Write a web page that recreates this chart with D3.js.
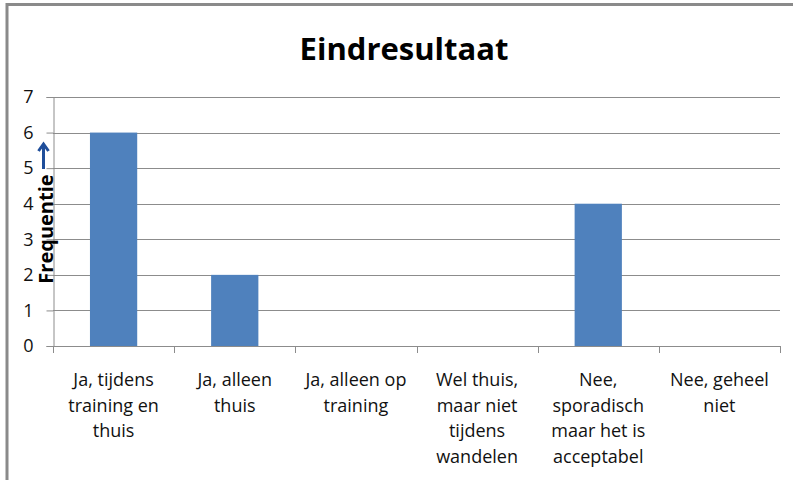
<!DOCTYPE html>
<html>
<head>
  <meta charset="UTF-8">
  <title>Eindresultaat</title>
  <script src="https://d3js.org/d3.v7.min.js"></script>
  <style>
    body { margin: 0; background: #fff; }
    text { font-family: "Open Sans", sans-serif; }
  </style>
</head>
<body>
<svg id="chart"></svg>
<script>
  // data
  const categories = [
    "Ja, tijdens training en thuis",
    "Ja, alleen thuis",
    "Ja, alleen op training",
    "Wel thuis, maar niet tijdens wandelen",
    "Nee, sporadisch maar het is acceptabel",
    "Nee, geheel niet"
  ];
  const frequencies = [6, 2, 0, 0, 4, 0];
  const yTicks = [0, 1, 2, 3, 4, 5, 6, 7];

  const width = 793,
      height = 480,
      margin = {top: 97, right: 13, bottom: 134, left: 53};

  const svg = d3.select("#chart")
      .attr("width", width)
      .attr("height", height);

  // outer chart border (top + left only visible)
  svg.append("path")
      .attr("d", "M7,480 V4.5 H793")
      .attr("fill", "none")
      .attr("stroke", "#8a8a8a")
      .attr("stroke-width", 3);

  const x = d3.scaleBand()
      .domain(categories)
      .range([margin.left, width - margin.right])
      .paddingInner(0.61)
      .paddingOuter(0.305);

  const y = d3.scaleLinear()
      .domain([0, 7])
      .range([height - margin.bottom, margin.top]);

  // title
  svg.append("text")
      .attr("x", 404)
      .attr("y", 60)
      .attr("text-anchor", "middle")
      .attr("font-size", 31)
      .attr("font-weight", "bold")
      .attr("fill", "#000")
      .text("Eindresultaat");

  // gridlines
  svg.append("g")
      .selectAll("line")
      .data(yTicks.filter(d => d > 0))
      .join("line")
        .attr("x1", margin.left)
        .attr("x2", width - margin.right)
        .attr("y1", d => Math.round(y(d)) + 0.5)
        .attr("y2", d => Math.round(y(d)) + 0.5)
        .attr("stroke", "#8c8c8c");

  // bars
  svg.append("g")
      .selectAll("rect")
      .data(frequencies)
      .join("rect")
        .attr("x", (d, i) => x(categories[i]))
        .attr("y", d => y(d))
        .attr("width", x.bandwidth())
        .attr("height", d => y(0) - y(d))
        .attr("fill", "#4f81bd");

  // y axis
  const yAxis = svg.append("g")
      .attr("transform", "translate(" + (margin.left + 0.5) + ",0)")
      .call(d3.axisLeft(y).tickValues(yTicks).tickFormat(d3.format("d")).tickSize(7).tickPadding(13));
  yAxis.select(".domain").attr("stroke", "#8c8c8c");
  yAxis.selectAll(".tick line").attr("stroke", "#8c8c8c");
  yAxis.selectAll(".tick text")
      .attr("font-size", 18)
      .attr("font-family", "Open Sans, sans-serif")
      .attr("fill", "#111");

  // x axis: ticks on category boundaries
  const boundaries = d3.range(categories.length + 1).map(i => margin.left + i * (width - margin.left - margin.right) / categories.length);
  const xAxis = svg.append("g");
  xAxis.append("line")
      .attr("x1", margin.left)
      .attr("x2", width - margin.right)
      .attr("y1", Math.round(y(0)) + 0.5)
      .attr("y2", Math.round(y(0)) + 0.5)
      .attr("stroke", "#8c8c8c");
  xAxis.selectAll("line.tk")
      .data(boundaries)
      .join("line")
        .attr("class", "tk")
        .attr("x1", d => Math.round(d) + 0.5)
        .attr("x2", d => Math.round(d) + 0.5)
        .attr("y1", Math.round(y(0)))
        .attr("y2", Math.round(y(0)) + 7)
        .attr("stroke", "#8c8c8c");

  const labels = xAxis.selectAll("text.lbl")
      .data(categories)
      .join("text")
        .attr("class", "lbl")
        .attr("x", d => x(d) + x.bandwidth() / 2)
        .attr("y", 386)
        .attr("text-anchor", "middle")
        .attr("font-size", 18)
        .attr("fill", "#111")
        .text(d => d);
  labels.call(wrap, 118);

  // y axis title with arrow
  svg.append("text")
      .attr("transform", "translate(53,229) rotate(-90)")
      .attr("text-anchor", "middle")
      .attr("font-size", 20)
      .attr("font-weight", "bold")
      .attr("fill", "#000")
      .text("Frequentie");
  svg.append("path")
      .attr("d", "M43.5,169 V145 M38.5,151 L43.5,144 L48.5,151")
      .attr("fill", "none")
      .attr("stroke", "#1f4e9a")
      .attr("stroke-width", 3);

  // break long labels into lines
  function wrap(sel, w) {
    sel.each(function() {
      const t = d3.select(this),
          words = t.text().split(/\s+/),
          x0 = t.attr("x"),
          y0 = t.attr("y");
      t.text(null);
      let line = [],
          n = 0,
          tspan = t.append("tspan").attr("x", x0).attr("y", y0);
      words.forEach(word => {
        line.push(word);
        tspan.text(line.join(" "));
        if (tspan.node().getComputedTextLength() > w && line.length > 1) {
          line.pop();
          tspan.text(line.join(" "));
          line = [word];
          n++;
          tspan = t.append("tspan").attr("x", x0).attr("y", +y0 + n * 25.5).text(word);
        }
      });
    });
  }
</script>
</body>
</html>
